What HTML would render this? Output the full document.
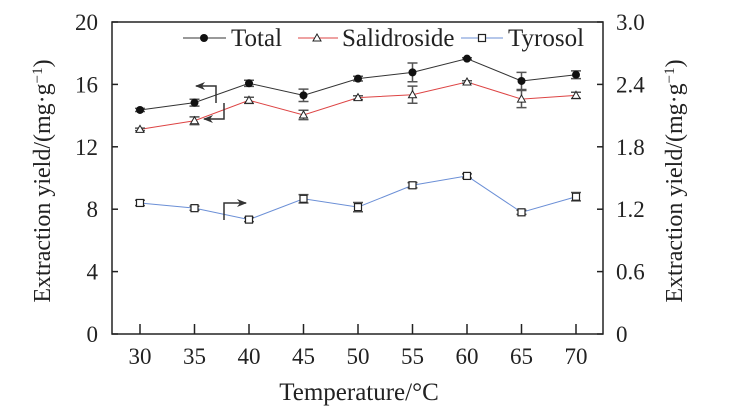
<!DOCTYPE html>
<html><head><meta charset="utf-8"><style>
html,body{margin:0;padding:0;background:#fff;}
svg{display:block;font-family:"Liberation Serif",serif;}
</style></head><body>
<svg id="chart" width="742" height="414" viewBox="0 0 742 414">
<defs>
<marker id="ah" markerWidth="10" markerHeight="8" refX="9" refY="4" orient="auto" markerUnits="userSpaceOnUse">
<path d="M0,0 L10,4 L0,8 L3,4 Z" fill="#333"/></marker>
</defs>
<g id="axes"></g>
<g id="series"></g>
<g font-size="25" fill="#222">
 <g>
  <line x1="183" y1="38" x2="226" y2="38" stroke="#333" stroke-width="1"/>
  <circle cx="204" cy="38" r="4" fill="#111"/>
  <text x="231" y="46">Total</text></g>
 <g>
  <line x1="298" y1="38" x2="338" y2="38" stroke="#d44" stroke-width="1"/>
  <path d="M317,34 L321,41 L313,41 Z" fill="#fff" stroke="#222" stroke-width="1"/>
  <text x="342" y="46">Salidroside</text></g>
 <g>
  <line x1="461" y1="38" x2="503" y2="38" stroke="#6b8fd6" stroke-width="1"/>
  <rect x="478.5" y="34.5" width="7" height="7" fill="#fff" stroke="#222" stroke-width="1.2"/>
  <text x="508" y="46">Tyrosol</text></g>
</g>
<g stroke="#333" stroke-width="1.5" fill="none">
 <polyline points="216,103 216,86 196,86" marker-end="url(#ah)"/>
 <polyline points="224,103 224,119 204,119" marker-end="url(#ah)"/>
 <polyline points="224,220 224,203 246,203" marker-end="url(#ah)"/>
</g>
<text transform="translate(50,181) rotate(-90)" text-anchor="middle" font-size="24" fill="#222">Extraction yield/(mg·g<tspan dy="-8" font-size="15">−1</tspan><tspan dy="8">)</tspan></text>
<text transform="translate(682,181) rotate(-90)" text-anchor="middle" font-size="24" fill="#222">Extraction yield/(mg·g<tspan dy="-8" font-size="15">−1</tspan><tspan dy="8">)</tspan></text>
<text x="359" y="400" text-anchor="middle" font-size="25" fill="#222">Temperature/°C</text>
</svg>
<script>
const temps=[30,35,40,45,50,55,60,65,70];
const total=[14.36,14.83,16.07,15.3,16.37,16.77,17.65,16.22,16.62];
const totalErr=[0.1,0.22,0.2,0.4,0.15,0.6,0.06,0.55,0.25];
const salid=[13.12,13.67,14.98,14.04,15.15,15.34,16.15,15.06,15.3];
const salidErr=[0.08,0.25,0.2,0.3,0.12,0.55,0.08,0.55,0.2];
const tyro=[1.26,1.21,1.10,1.30,1.22,1.43,1.52,1.17,1.32];
const tyroErr=[0.026,0.02,0.02,0.04,0.045,0.025,0.02,0.02,0.04];
const leftTicks=[0,4,8,12,16,20];
const rightTicks=["0","0.6","1.2","1.8","2.4","3.0"];
const X0=112,X1=603,Y0=334,Y1=22;
const xs=v=>140+(v-30)*(576-140)/40;
const yl=v=>Y0-(v/20)*(Y0-Y1);
const yr=v=>Y0-(v/3)*(Y0-Y1);
const NS="http://www.w3.org/2000/svg";
function mk(t,a,p){const e=document.createElementNS(NS,t);for(const k in a)e.setAttribute(k,a[k]);p.appendChild(e);return e;}
const ax=document.getElementById('axes');
const frame=mk('rect',{x:X0,y:Y1,width:X1-X0,height:Y0-Y1,fill:'none',stroke:'#222','stroke-width':1.5},ax);


leftTicks.forEach((v,i)=>{
 const y=yl(v);
 mk('line',{x1:X0,y1:y,x2:X0+6,y2:y,stroke:'#222','stroke-width':1.5},ax);
 mk('line',{x1:X1,y1:y,x2:X1-6,y2:y,stroke:'#222','stroke-width':1.5},ax);
 const t=mk('text',{x:98,y:y+8,'text-anchor':'end','font-size':23,fill:'#222'},ax);t.textContent=v;
 
 
 const r=mk('text',{x:616,y:y+8,'font-size':23,fill:'#222'},ax);r.textContent=rightTicks[i];
 
 
});
temps.forEach(v=>{
 const x=xs(v);
 mk('line',{x1:x,y1:Y0,x2:x,y2:Y0-10,stroke:'#222','stroke-width':1.5},ax);
 const t=mk('text',{x:x,y:364,'text-anchor':'middle','font-size':23,fill:'#222'},ax);t.textContent=v;
 
 
});
const sg=document.getElementById('series');
function series(vals,errs,ys,color,kind,name){
 const g=mk('g',{},sg);
 
 
 mk('polyline',{points:vals.map((v,i)=>xs(temps[i])+','+ys(v)).join(' '),fill:'none',stroke:color,'stroke-width':1},g);
 vals.forEach((v,i)=>{
  const x=xs(temps[i]),y=ys(v),a=ys(v+errs[i]),b=ys(v-errs[i]);
  const e=mk('path',{d:`M${x},${a}V${b}M${x-5},${a}H${x+5}M${x-5},${b}H${x+5}`,stroke:'#555','stroke-width':1.5,fill:'none'},g);
  
  
  let m;
  if(kind==='c')m=mk('circle',{cx:x,cy:y,r:4,fill:'#111'},g);
  else if(kind==='t')m=mk('path',{d:`M${x},${y-4}L${x+4},${y+3}L${x-4},${y+3}Z`,fill:'#fff',stroke:'#222','stroke-width':1},g);
  else m=mk('rect',{x:x-3.5,y:y-3.5,width:7,height:7,fill:'#fff',stroke:'#222','stroke-width':1.2},g);
  
  
 });
}
series(total,totalErr,yl,'#333','c','total');
series(salid,salidErr,yl,'#d44','t','salidroside');
series(tyro,tyroErr,yr,'#6b8fd6','s','tyrosol');
</script>
</body></html>
